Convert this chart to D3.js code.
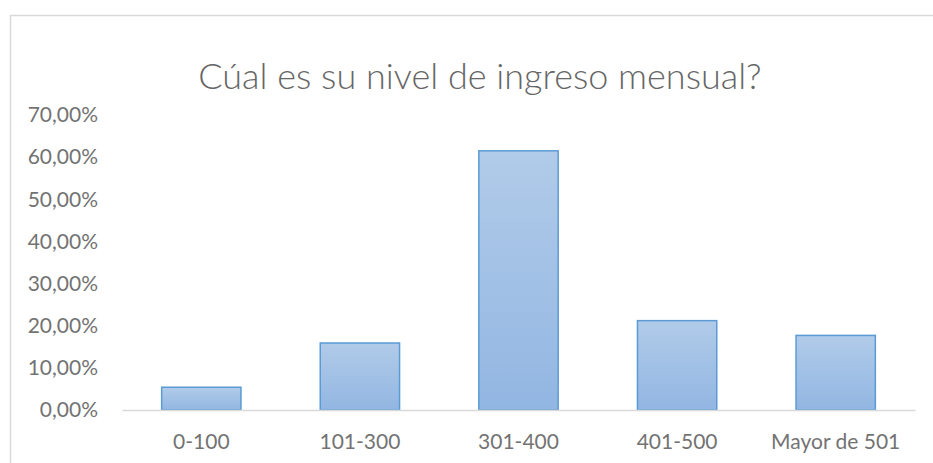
<!DOCTYPE html>
<html>
<head>
<meta charset="utf-8">
<script src="https://cdn.jsdelivr.net/npm/d3@7"></script>
<style>
  body { margin: 0; background: #fff; }
  svg { display: block; font-family: Lato, "Open Sans", sans-serif; }
</style>
</head>
<body>
<svg id="chart" width="933" height="463"></svg>
<script>
// data
const categories = ["0-100", "101-300", "301-400", "401-500", "Mayor de 501"];
const values = [0.054, 0.159, 0.615, 0.212, 0.177];
const y_ticks = [0, 0.1, 0.2, 0.3, 0.4, 0.5, 0.6, 0.7];
const title = "Cúal es su nivel de ingreso mensual?";

const width = 933, height = 463;
const plot = { left: 122, right: 915, top: 115, bottom: 410 };
const svg = d3.select("#chart");

// chart frame (only top and left edges are in frame)
svg.append("path")
	.attr("d", `M10.5,${height}V15.5H${width}`)
	.style("fill", "none").style("stroke", "#d9d9d9").style("stroke-width", 1.5);

svg.append("text")
	.attr("x", 480).attr("y", 89)
	.attr("text-anchor", "middle")
	.style("font-size", "36px").style("font-weight", 300).style("fill", "#666")
	.text(title);

const x = d3.scaleBand().domain(categories).range([plot.left, plot.right]).paddingInner(0.5).paddingOuter(0.25);
const y = d3.scaleLinear().domain([0, 0.7]).range([plot.bottom, plot.top]);
const fmt = v => d3.format(".2f")(v * 100).replace(".", ",") + "%";

const grad = svg.append("defs").append("linearGradient")
	.attr("id", "barfill").attr("x1", 0).attr("y1", 0).attr("x2", 0).attr("y2", 1);
grad.append("stop").attr("offset", "0%").attr("stop-color", "#b1cbe9");
grad.append("stop").attr("offset", "100%").attr("stop-color", "#92b6e2");

// y axis labels, no line
const y_axis = svg.append("g")
	.attr("transform", `translate(${plot.left},0)`)
	.call(d3.axisLeft(y).tickValues(y_ticks).tickFormat(fmt).tickSize(0).tickPadding(24));
y_axis.select(".domain").remove();
y_axis.selectAll("text").style("font-size", "21px").style("fill", "#737373").style("font-family", "Lato, sans-serif");

svg.selectAll("rect.bar").data(values).enter()
	.append("rect").attr("class", "bar")
	.attr("x", (d, i) => x(categories[i]))
	.attr("width", x.bandwidth())
	.attr("y", d => y(d))
	.attr("height", d => y(0) - y(d))
	.style("fill", "url(#barfill)").style("stroke", "#5b9bd5").style("stroke-width", 1.5);

// x axis
const x_axis = svg.append("g")
	.attr("transform", `translate(0,${plot.bottom})`)
	.call(d3.axisBottom(x).tickSize(0).tickPadding(24));
x_axis.select(".domain").style("stroke", "#d9d9d9").style("stroke-width", 1.5);
x_axis.selectAll("text").style("font-size", "21px").style("fill", "#737373").style("font-family", "Lato, sans-serif");
</script>
</body>
</html>
